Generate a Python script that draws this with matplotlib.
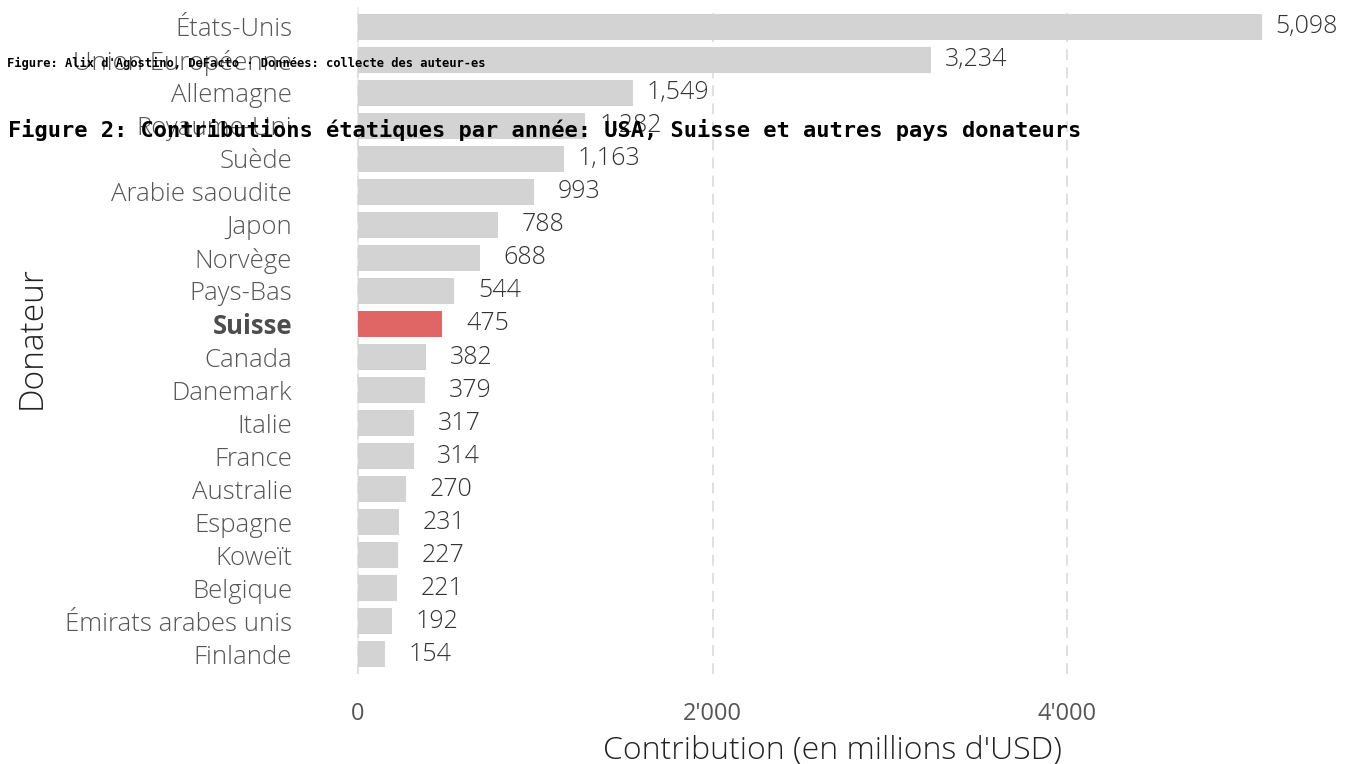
import matplotlib
matplotlib.use("Agg")
import matplotlib.pyplot as plt
from matplotlib.ticker import FuncFormatter

# -------------------- DATA --------------------
donors = ["États-Unis", "Union Européenne", "Allemagne", "Royaume-Uni", "Suède",
          "Arabie saoudite", "Japon", "Norvège", "Pays-Bas", "Suisse", "Canada",
          "Danemark", "Italie", "France", "Australie", "Espagne", "Koweït",
          "Belgique", "Émirats arabes unis", "Finlande"]
contributions = [5098, 3234, 1549, 1282, 1163, 993, 788, 688, 544, 475, 382,
                 379, 317, 314, 270, 231, 227, 221, 192, 154]
highlight = "Suisse"

TITLE = "Figure 2: Contributions étatiques par année: USA, Suisse et autres pays donateurs"
CAPTION = "Figure: Alix d'Agostino, DeFacto · Données: collecte des auteur-es"

# -------------------- STYLE --------------------
plt.rcParams["font.family"] = ["Open Sans", "DejaVu Sans"]
GREY = "#d3d3d3"
RED = "#e06666"

fig = plt.figure(figsize=(13.51, 7.64), dpi=100)
W, H = 1351, 764
left_px, right_px, top_px, bot_px = 320, 1345, 7, 674
ax = fig.add_axes([left_px / W, 1 - bot_px / H, (right_px - left_px) / W, (bot_px - top_px) / H])

ppu = (1067 - 358) / 4000.0
xmin = (left_px - 358) / ppu
xmax = (right_px - 358) / ppu

colors = [RED if d == highlight else GREY for d in donors]
ypos = list(range(len(donors)))
ax.barh(ypos, contributions, height=0.8, color=colors, zorder=2)

for y, v in zip(ypos, contributions):
    ax.text(v + 255, y, f"{v:,}", ha="center", va="center", fontsize=18,
            color="#333333", fontweight="light", zorder=3)

ax.set_xlim(xmin, xmax)
ax.set_ylim(len(donors) - 0.4, -0.6)
ax.set_yticks(ypos)
ax.set_yticklabels(donors, fontsize=18.5, color="#555555", fontweight="light")
for lbl in ax.get_yticklabels():
    if lbl.get_text() == highlight:
        lbl.set_fontweight("bold")
        lbl.set_color("#4d4d4d")

ax.set_xticks([0, 2000, 4000])
ax.xaxis.set_major_formatter(FuncFormatter(lambda x, p: f"{int(x):,}".replace(",", "'")))
ax.tick_params(axis="x", labelsize=17, labelcolor="#555555", length=0, pad=20)
ax.tick_params(axis="y", length=0, pad=20)

ax.grid(axis="x", linestyle=(0, (6, 4)), color="#dddddd", linewidth=1.3, zorder=0)
ax.axvline(0, color="#eeeeee", linewidth=1.3, zorder=1)
for s in ax.spines.values():
    s.set_visible(False)

ax.set_xlabel("Contribution (en millions d'USD)", fontsize=23, color="#222222",
              fontweight="light", labelpad=6)
fig.text(32 / W, 1 - 338 / H, "Donateur", rotation=90, fontsize=24, color="#222222",
         ha="center", va="center", fontweight="light")

fig.text(8 / W, 1 - 130 / H, TITLE, family="DejaVu Sans Mono", fontweight="bold",
         fontsize=15.8, ha="left", va="center", color="black")
fig.text(7 / W, 1 - 63 / H, CAPTION, family="DejaVu Sans Mono", fontweight="bold",
         fontsize=8.75, ha="left", va="center", color="black")

fig.savefig("out.png", dpi=100)
